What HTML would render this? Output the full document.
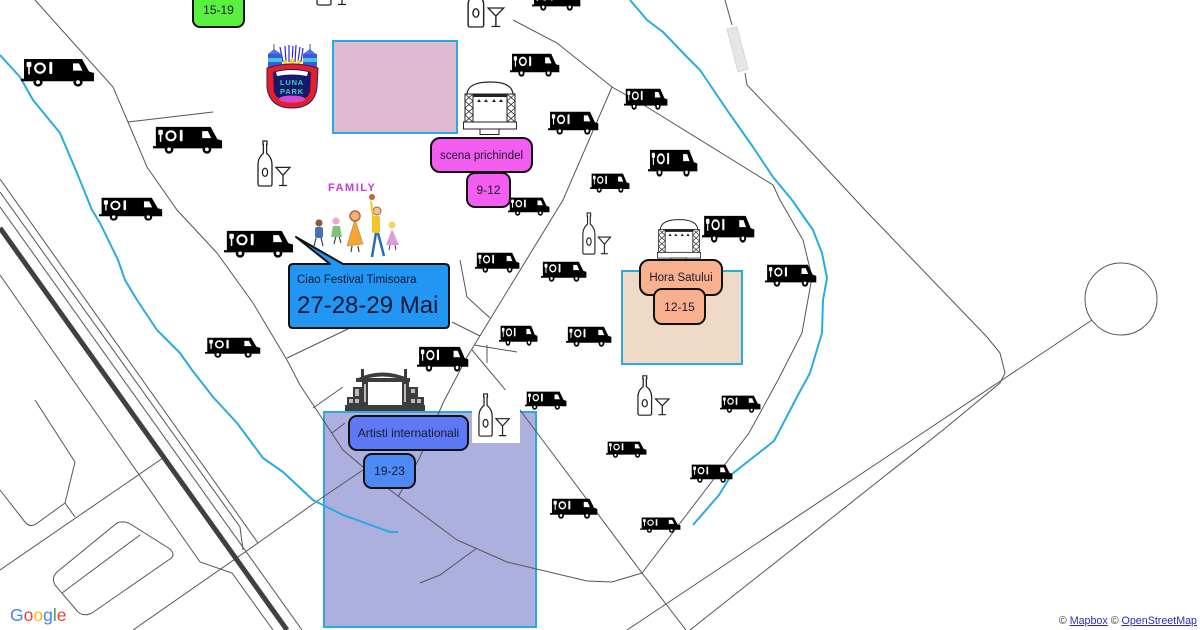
<!DOCTYPE html>
<html><head><meta charset="utf-8">
<style>
html,body{margin:0;padding:0;background:#fff;}
body{width:1200px;height:630px;overflow:hidden;position:relative;font-family:"Liberation Sans",sans-serif;}
svg{display:block;}
</style></head><body>
<svg width="1200" height="630" viewBox="0 0 1200 630" xmlns="http://www.w3.org/2000/svg" font-family="'Liberation Sans', sans-serif">
<defs>
 <symbol id="tr" viewBox="0 0 74 30" preserveAspectRatio="none">
  <path d="M3,1H61L68,14L73,15.5V24H0V21.5H3Z" fill="#000"/>
  <circle cx="17" cy="25" r="4.6" fill="#000"/><circle cx="17" cy="25" r="2" fill="#fff"/>
  <circle cx="57" cy="25" r="4.6" fill="#000"/><circle cx="57" cy="25" r="2" fill="#fff"/>
  <rect x="5.6" y="4" width="4.8" height="5.5" rx="1.2" fill="#fff"/>
  <rect x="7.2" y="8" width="1.6" height="9" fill="#fff"/>
  <circle cx="19" cy="10.5" r="4.8" fill="none" stroke="#fff" stroke-width="2.2"/>
  <rect x="28.3" y="4" width="3" height="12.5" rx="1.3" fill="#fff"/>
  <path d="M52,5.5H58L61.5,13H52Z" fill="#fff"/>
 </symbol>
 <symbol id="bt" viewBox="0 0 36 48" preserveAspectRatio="none">
  <path d="M6,1H10V4.5H9.6V13.5Q15,18 15,25V45Q15,47 13,47H3Q1,47 1,45V25Q1,18 6.4,13.5V4.5H6Z" fill="#fff" stroke="#222" stroke-width="1.3"/>
  <ellipse cx="8" cy="33" rx="2.6" ry="4.2" fill="none" stroke="#222" stroke-width="1.3"/>
  <path d="M19,28H33L26,36ZM26,36V46M22,46.5H30" fill="none" stroke="#222" stroke-width="1.3"/>
 </symbol>
 <symbol id="st" viewBox="0 0 54 55" preserveAspectRatio="none">
  <path d="M4,15Q4,2 27,2Q50,2 50,15Z" fill="#fff" stroke="#222" stroke-width="1.2"/>
  <rect x="10" y="14" width="34" height="28" fill="#fff" stroke="#222" stroke-width="1"/>
  <rect x="2" y="14" width="8" height="29" fill="#fff" stroke="#222" stroke-width="1"/>
  <rect x="44" y="14" width="8" height="29" fill="#fff" stroke="#222" stroke-width="1"/>
  <path d="M2,14L10,21L2,28L10,35L2,42M10,14L2,21L10,28L2,35L10,42M44,14L52,21L44,28L52,35L44,42M52,14L44,21L52,28L44,35L52,42" fill="none" stroke="#222" stroke-width="0.8"/>
  <rect x="10" y="14" width="34" height="3" fill="#222"/>
  <path d="M14,22L16,19L18,22ZM21,22L23,19L25,22ZM29,22L31,19L33,22ZM36,22L38,19L40,22Z" fill="#222"/>
  <rect x="0.5" y="42" width="53" height="7" fill="#fff" stroke="#222" stroke-width="1"/>
  <rect x="17" y="49" width="19" height="5.5" fill="#fff" stroke="#222" stroke-width="1"/>
 </symbol>
</defs>

<rect width="1200" height="630" fill="#fff"/>

<!-- colored areas -->
<rect x="333" y="41" width="124" height="92" fill="#dfbbd2" stroke="#29abe2" stroke-width="2"/>
<rect x="324" y="412" width="212" height="215" fill="#adafde" stroke="#29abe2" stroke-width="2"/>
<rect x="622" y="271" width="120" height="93" fill="#efd9c7" stroke="#29abe2" stroke-width="2"/>

<!-- roads -->
<g fill="none" stroke="#555" stroke-width="1">
 <path d="M35,0L113,87L128,122L147,167L177,210L217,253L253,303L287,360L300,385L343,450L390,490L457,540L507,562L587,581L612,582L642,573L686,630"/>
 <path d="M128,122L213,112"/>
 <path d="M642,573L726,463L749,433L778,380L802,333L812,277L803,240L780,200L773,185L647,107L612,87L557,43L513,20"/>
 <path d="M612,87L563,200L467,357L443,403L420,457L398,497"/>
 <path d="M460,260L467,297L490,318"/>
 <path d="M452,322L480,336"/>
 <path d="M474,345L517,352"/>
 <path d="M487,345L487,363"/>
 <path d="M472,350L503,387L520,410L642,573"/>
 <path d="M287,358L350,328"/>
 <path d="M313,408L343,387"/>
 <path d="M332,433L345,423"/>
 <path d="M477,548L440,575L420,583"/>
 <path d="M133,630L258,543L323,497L363,470"/>
 <path d="M0,207L302,630"/>
 <path d="M0,192L240,527L243,550"/>
 <path d="M0,179L258,543"/>
 <path d="M0,275L87,400L200,562L232,573L273,630"/>
 <path d="M35,400L75,462L65,503L36,524Q30,528 25,522L0,490"/>
 <path d="M65,503L75,517"/>
 <path d="M0,570L163,458"/>
 <path d="M57,572L117,523Q125,520 132,525L170,549Q176,555 170,559L92,613Q84,617 78,612L55,585Q51,578 57,572Z"/>
 <path d="M62,593L140,535"/>
 <path d="M725,0L732,25"/>
 <path d="M745,73L747,85L800,140L865,210L987,337L1000,353L1005,373L1000,383L943,430L690,630"/>
 <path d="M1092,320L627,630"/>
 <circle cx="1121" cy="299" r="36"/>
</g>
<polygon points="727,29 737,27 748,69 738,72" fill="#e6e6e6" stroke="#d6d6d6" stroke-width="1"/>
<line x1="0" y1="228" x2="287" y2="630" stroke="#404040" stroke-width="5"/>

<!-- rivers -->
<g fill="none" stroke="#29abe2" stroke-width="2" stroke-linejoin="round">
 <path d="M0,55L20,77L33,100L60,133L77,173L92,210L100,223L118,260L125,280L137,300L157,330L180,353L192,370L213,397L237,423L263,458L283,472L313,500L343,515L390,532L398,532"/>
 <path d="M630,0L647,20L663,32L687,57L700,70L727,110L753,147L773,177L792,200L813,230L822,253L827,278L823,300L822,333L810,373L798,395L774,441L732,474L719,495L693,525"/>
</g>

<!-- trucks -->
<g>
 <use href="#tr" x="21" y="58" width="74" height="29"/>
 <use href="#tr" x="153" y="126" width="70" height="28"/>
 <use href="#tr" x="99" y="197" width="64" height="24"/>
 <use href="#tr" x="224" y="230" width="70" height="28"/>
 <use href="#tr" x="205" y="337" width="56" height="21"/>
 <use href="#tr" x="532" y="-12" width="49" height="23"/>
 <use href="#tr" x="510" y="53" width="50" height="24"/>
 <use href="#tr" x="548" y="111" width="51" height="24"/>
 <use href="#tr" x="624" y="88" width="44" height="22"/>
 <use href="#tr" x="648" y="149" width="50" height="28"/>
 <use href="#tr" x="590" y="173" width="40" height="20"/>
 <use href="#tr" x="508" y="197" width="42" height="19"/>
 <use href="#tr" x="702" y="215" width="53" height="28"/>
 <use href="#tr" x="475" y="252" width="45" height="21"/>
 <use href="#tr" x="541" y="261" width="46" height="21"/>
 <use href="#tr" x="765" y="264" width="52" height="23"/>
 <use href="#tr" x="499" y="325" width="39" height="21"/>
 <use href="#tr" x="566" y="326" width="46" height="21"/>
 <use href="#tr" x="417" y="346" width="52" height="26"/>
 <use href="#tr" x="525" y="391" width="42" height="19"/>
 <use href="#tr" x="720" y="395" width="41" height="18"/>
 <use href="#tr" x="606" y="441" width="41" height="17"/>
 <use href="#tr" x="690" y="464" width="43" height="19"/>
 <use href="#tr" x="640" y="517" width="41" height="16"/>
 <use href="#tr" x="550" y="498" width="48" height="21"/>
</g>

<!-- bottles -->
<rect x="472" y="390" width="48" height="53" fill="#fff"/>
<use href="#bt" x="316" y="-41" width="36" height="47"/>
<use href="#bt" x="467" y="-20" width="40" height="48"/>
<use href="#bt" x="257" y="140" width="36" height="47"/>
<use href="#bt" x="582" y="212" width="31" height="43"/>
<use href="#bt" x="637" y="375" width="35" height="41"/>
<use href="#bt" x="478" y="393" width="34" height="44"/>

<!-- stages -->
<use href="#st" x="463" y="80" width="54" height="55"/>
<use href="#st" x="657" y="218" width="44" height="45"/>
<g fill="#3d3d3d">
 <path d="M356,379Q382,366 410,379L410,382Q382,371 356,382Z"/>
 <rect x="356" y="378" width="54" height="4"/>
 <rect x="362" y="380" width="6" height="26"/>
 <rect x="402" y="380" width="7" height="26"/>
 <rect x="353" y="387" width="9" height="10"/>
 <rect x="347" y="397" width="15" height="9"/>
 <rect x="409" y="387" width="9" height="10"/>
 <rect x="409" y="397" width="15" height="9"/>
 <rect x="345" y="405" width="80" height="6"/>
 <rect x="361" y="369" width="3" height="10"/>
 <rect x="404" y="369" width="3" height="10"/>
</g>
<g fill="#bbb">
 <rect x="349" y="399" width="4" height="4"/><rect x="355" y="399" width="4" height="4"/>
 <rect x="355" y="389" width="4" height="4"/><rect x="355" y="393" width="4" height="3"/>
 <rect x="411" y="389" width="4" height="4"/><rect x="411" y="399" width="4" height="4"/>
 <rect x="417" y="399" width="4" height="4"/>
 <rect x="364" y="384" width="2" height="18"/><rect x="404" y="384" width="2" height="18"/>
</g>

<!-- Luna Park logo -->
<g>
 <path d="M283,62L280,47M286,62L285,46M289,62L289,45M292,62L293,46M295,62L296,45M298,62L300,47M301,62L303,48" stroke="#2a2ad6" stroke-width="1.2"/>
 <path d="M268,54L274,49L281,54Z" fill="#5a6fe0"/><path d="M303,54L310,49L316,54Z" fill="#5a6fe0"/>
 <line x1="274" y1="44" x2="274" y2="50" stroke="#555" stroke-width="1"/>
 <line x1="310" y1="44" x2="310" y2="50" stroke="#555" stroke-width="1"/>
 <rect x="268" y="54" width="14" height="16" fill="#3b5bd6"/>
 <rect x="303" y="54" width="14" height="16" fill="#3b5bd6"/>
 <rect x="268" y="58" width="14" height="4" fill="#3ec8e0"/>
 <rect x="303" y="58" width="14" height="4" fill="#3ec8e0"/>
 <path d="M282,67L285,59L288,64L292,57L296,64L299,59L303,67Z" fill="#ffd01a"/>
 <path d="M267,68Q292,60 318,68L317,88Q314,108 292,108Q270,108 267,88Z" fill="#e61e2a" stroke="#3a1a6a" stroke-width="1"/>
 <path d="M273,72Q292,66 311,72L310,92Q306,102 292,102Q278,102 274,92Z" fill="#17186b"/>
 <path d="M276,72Q292,68 308,72L307,76Q292,73 277,76Z" fill="#fff"/>
 <ellipse cx="292" cy="99" rx="13" ry="3.5" fill="#d54ad0"/>
 <text x="292" y="85" font-size="7.5" font-weight="bold" fill="#35d3c3" text-anchor="middle" letter-spacing="0.8">LUNA</text>
 <text x="292" y="94" font-size="7.5" font-weight="bold" fill="#35d3c3" text-anchor="middle" letter-spacing="0.8">PARK</text>
</g>

<!-- Family drawing -->
<g>
 <text x="328" y="191" font-size="11" font-weight="bold" fill="#c33bd6" letter-spacing="1.5">FAMILY</text>
 <path d="M316,238L314,246M321,238L323,246" stroke="#444" stroke-width="1.2"/>
 <rect x="315" y="227" width="8" height="11" rx="2" fill="#4a6fb5"/>
 <circle cx="319" cy="223" r="3.6" fill="#8b5a3c"/>
 <path d="M336,236L334,244M339,236L341,243" stroke="#444" stroke-width="1.2"/>
 <path d="M333,226H340L342,237H331Z" fill="#7dc47a"/>
 <circle cx="336" cy="221" r="3.6" fill="#f2a8c8"/>
 <path d="M355,219L363,244L347,246Z" fill="#f6a531" stroke="#a85" stroke-width="0.6"/>
 <circle cx="355" cy="216" r="5" fill="#f3b27a" stroke="#b5652b" stroke-width="1.5"/>
 <path d="M352,246L351,252M358,246L359,252" stroke="#444" stroke-width="1.2"/>
 <path d="M376,233L372,257M378,233L384,256" stroke="#2a6bb0" stroke-width="2.5"/>
 <rect x="372" y="216" width="8" height="17" rx="2" fill="#f2c62a"/>
 <circle cx="377" cy="211" r="4" fill="#f3c090" stroke="#a0622b" stroke-width="1"/>
 <path d="M373,217L371,201" stroke="#f2c62a" stroke-width="2"/>
 <circle cx="372" cy="197" r="3" fill="#c8603a"/>
 <path d="M392,229L399,245H386Z" fill="#e09be0"/>
 <circle cx="392" cy="225" r="3.6" fill="#f5d36a"/>
 <path d="M390,245L389,250M395,245L396,250" stroke="#444" stroke-width="1"/>
</g>

<!-- callout -->
<path d="M293,264H330L296,237L343,264H445Q449,264 449,268V324Q449,328 445,328H293Q289,328 289,324V268Q289,264 293,264Z" fill="#2196f3" stroke="#111" stroke-width="2" stroke-linejoin="round"/>
<text x="297" y="283" font-size="11.5" fill="#0b1633">Ciao Festival Timisoara</text>
<text x="297" y="313" font-size="24" fill="#0b1633">27-28-29 Mai</text>

<!-- labels -->
<g stroke="#111" stroke-width="2">
 <rect x="193" y="-8" width="51" height="35" rx="7" fill="#59f03f"/>
 <rect x="431" y="138" width="101" height="34" rx="9" fill="#f35ef0"/>
 <rect x="467" y="173" width="43" height="34" rx="8" fill="#f35ef0"/>
 <rect x="349" y="416" width="119" height="34" rx="8" fill="#5d79f5"/>
 <rect x="364" y="454" width="51" height="34" rx="8" fill="#4d8af3"/>
 <rect x="640" y="260" width="82" height="35" rx="9" fill="#f8b08f"/>
 <rect x="654" y="289" width="51" height="35" rx="8" fill="#f8b08f"/>
</g>
<g font-size="12" fill="#1a1a2a" text-anchor="middle">
 <text x="218.5" y="14">15-19</text>
 <text x="481.5" y="159" font-size="11.5">scena prichindel</text>
 <text x="488.5" y="194">9-12</text>
 <text x="408.5" y="437">Artisti internationali</text>
 <text x="389.5" y="475">19-23</text>
 <text x="681" y="281" font-size="11.5">Hora Satului</text>
 <text x="679.5" y="311">12-15</text>
</g>

<!-- Google logo -->
<text x="10" y="621" font-size="17.5"><tspan fill="#4285F4">G</tspan><tspan fill="#EA4335">o</tspan><tspan fill="#FBBC05">o</tspan><tspan fill="#4285F4">g</tspan><tspan fill="#34A853">l</tspan><tspan fill="#EA4335">e</tspan></text>

<!-- attribution -->
<text x="1197" y="624" font-size="10.7" text-anchor="end" fill="#333">© <tspan fill="#2a2ac0" text-decoration="underline">Mapbox</tspan> © <tspan fill="#2a2ac0" text-decoration="underline">OpenStreetMap</tspan></text>
</svg>
</body></html>
